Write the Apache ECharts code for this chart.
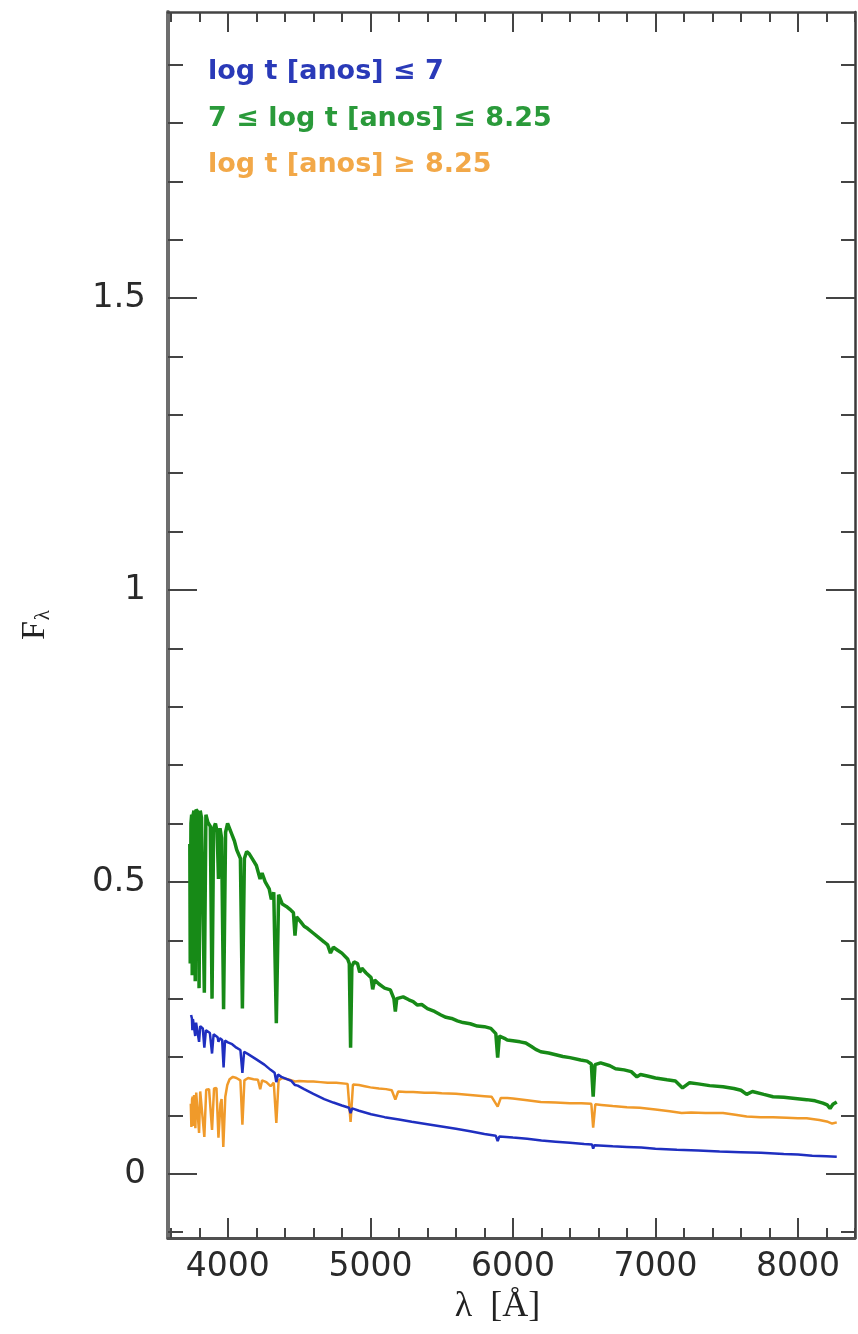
<!DOCTYPE html>
<html><head><meta charset="utf-8">
<script src="https://cdn.jsdelivr.net/npm/echarts@6/dist/echarts.min.js"></script>
<style>html,body{margin:0;padding:0;background:#fff}#c{width:858px;height:1334px}</style>
</head><body><div id="c"></div>
<script>
const seriesNames = ['log t [anos] \u2264 7', '7 \u2264 log t [anos] \u2264 8.25', 'log t [anos] \u2265 8.25'];
const seriesColors = ['#1f2fc0', '#178a17', '#f09a2a'];
const legendColors = ['#2a3ab8', '#2a9a3a', '#f2a848'];

// [wavelength (Å), F_lambda]
const blueSpectrum = [
  [3742,0.272],[3748,0.266],[3751,0.246],[3755,0.265],[3764,0.262],[3771,0.236],[3777,0.259],[3789,0.256],
  [3798,0.226],[3806,0.253],[3824,0.249],[3835,0.216],[3846,0.246],[3874,0.241],[3889,0.206],[3900,0.239],
  [3928,0.234],[3934,0.226],[3944,0.232],[3960,0.229],[3970,0.182],[3980,0.228],[4000,0.225],[4030,0.222],
  [4060,0.216],[4088,0.212],[4102,0.173],[4114,0.209],[4142,0.205],[4200,0.196],[4256,0.187],[4300,0.178],
  [4328,0.173],[4340,0.157],[4352,0.170],[4375,0.166],[4445,0.159],[4471,0.152],[4490,0.151],[4535,0.145],
  [4600,0.137],[4676,0.128],[4740,0.122],[4800,0.117],[4850,0.113],[4861,0.104],[4872,0.112],[4920,0.108],
  [5005,0.102],[5100,0.097],[5200,0.093],[5290,0.089],[5400,0.085],[5500,0.081],[5600,0.077],[5700,0.073],
  [5800,0.068],[5880,0.065],[5893,0.056],[5905,0.064],[6000,0.062],[6100,0.060],[6200,0.057],[6300,0.055],
  [6400,0.053],[6500,0.051],[6555,0.050],[6563,0.043],[6572,0.049],[6700,0.047],[6800,0.046],[6900,0.045],
  [7000,0.043],[7150,0.041],[7300,0.040],[7450,0.038],[7600,0.037],[7740,0.036],[7900,0.034],[8000,0.033],
  [8100,0.031],[8200,0.030],[8272,0.029]
];

const greenSpectrum = [
  [3733,0.565],[3736,0.360],[3741,0.600],[3746,0.615],[3750,0.340],[3754,0.612],[3762,0.622],[3771,0.330],
  [3777,0.624],[3788,0.620],[3798,0.318],[3806,0.622],[3815,0.610],[3824,0.612],[3835,0.310],[3846,0.615],
  [3860,0.602],[3877,0.595],[3889,0.300],[3900,0.592],[3913,0.600],[3925,0.585],[3934,0.505],[3945,0.592],
  [3956,0.575],[3970,0.282],[3984,0.585],[3998,0.600],[4012,0.598],[4030,0.580],[4046,0.570],[4062,0.555],
  [4088,0.540],[4102,0.283],[4116,0.540],[4132,0.552],[4150,0.548],[4175,0.538],[4200,0.528],[4226,0.505],
  [4240,0.515],[4262,0.500],[4290,0.488],[4305,0.470],[4322,0.482],[4340,0.258],[4356,0.478],[4382,0.462],
  [4410,0.458],[4440,0.452],[4460,0.447],[4471,0.408],[4482,0.440],[4510,0.432],[4535,0.424],[4560,0.420],
  [4600,0.412],[4640,0.404],[4676,0.397],[4700,0.392],[4720,0.378],[4740,0.388],[4770,0.383],[4800,0.378],
  [4840,0.368],[4852,0.360],[4861,0.216],[4870,0.355],[4885,0.363],[4910,0.360],[4925,0.345],[4940,0.352],
  [4970,0.344],[5005,0.336],[5016,0.316],[5030,0.332],[5060,0.325],[5100,0.318],[5140,0.315],[5165,0.300],
  [5175,0.278],[5185,0.300],[5230,0.303],[5270,0.298],[5300,0.295],[5330,0.289],[5360,0.290],[5400,0.283],
  [5450,0.278],[5495,0.272],[5530,0.268],[5570,0.266],[5610,0.262],[5650,0.259],[5700,0.257],[5750,0.253],
  [5800,0.252],[5845,0.249],[5880,0.240],[5893,0.199],[5905,0.236],[5940,0.232],[5960,0.229],[6000,0.228],
  [6050,0.226],[6090,0.224],[6130,0.218],[6160,0.213],[6195,0.209],[6250,0.207],[6300,0.204],[6350,0.201],
  [6400,0.199],[6475,0.195],[6520,0.193],[6550,0.188],[6563,0.132],[6576,0.187],[6615,0.190],[6680,0.185],
  [6720,0.180],[6780,0.178],[6830,0.175],[6870,0.166],[6895,0.170],[6950,0.167],[7000,0.164],[7081,0.161],
  [7140,0.159],[7190,0.147],[7240,0.156],[7300,0.154],[7380,0.151],[7474,0.149],[7550,0.146],[7600,0.143],
  [7640,0.136],[7680,0.141],[7760,0.136],[7825,0.132],[7900,0.131],[7980,0.129],[8061,0.127],[8120,0.125],
  [8175,0.121],[8205,0.118],[8225,0.112],[8245,0.119],[8272,0.123]
];

const orangeSpectrum = [
  [3740,0.120],[3744,0.080],[3749,0.128],[3754,0.132],[3758,0.082],[3763,0.135],[3768,0.137],[3772,0.078],
  [3778,0.139],[3790,0.140],[3798,0.070],[3806,0.141],[3820,0.142],[3835,0.063],[3848,0.144],[3868,0.145],
  [3889,0.075],[3903,0.146],[3920,0.147],[3934,0.062],[3948,0.120],[3956,0.128],[3968,0.046],[3982,0.132],
  [3996,0.152],[4012,0.162],[4035,0.166],[4060,0.164],[4088,0.160],[4102,0.084],[4116,0.160],[4142,0.164],
  [4180,0.162],[4211,0.161],[4227,0.145],[4240,0.160],[4270,0.157],[4300,0.150],[4322,0.156],[4340,0.087],
  [4356,0.160],[4380,0.164],[4420,0.162],[4471,0.158],[4500,0.159],[4560,0.158],[4600,0.158],[4650,0.157],
  [4700,0.156],[4760,0.156],[4840,0.154],[4861,0.089],[4878,0.153],[4920,0.152],[4960,0.150],[5000,0.148],
  [5060,0.146],[5110,0.145],[5150,0.143],[5175,0.127],[5195,0.141],[5250,0.140],[5300,0.140],[5380,0.139],
  [5450,0.139],[5500,0.138],[5600,0.137],[5700,0.135],[5800,0.133],[5850,0.132],[5893,0.115],[5915,0.130],
  [5960,0.130],[6000,0.129],[6100,0.126],[6195,0.123],[6300,0.122],[6400,0.121],[6480,0.121],[6550,0.120],
  [6563,0.079],[6578,0.119],[6620,0.118],[6700,0.116],[6800,0.114],[6890,0.113],[7000,0.110],[7100,0.107],
  [7184,0.104],[7250,0.105],[7350,0.104],[7474,0.104],[7560,0.101],[7640,0.098],[7737,0.097],[7825,0.097],
  [7920,0.096],[8000,0.095],[8061,0.095],[8150,0.092],[8210,0.089],[8240,0.086],[8272,0.088]
];

const xMajorTicks = [4000, 5000, 6000, 7000, 8000];
const xMinorTicks = [3600, 3800, 4200, 4400, 4600, 4800, 5200, 5400, 5600, 5800, 6200, 6400, 6600, 6800, 7200, 7400, 7600, 7800, 8200, 8400];
const yMajorTicks = [0, 0.5, 1, 1.5];
const yMinorTicks = [-0.1, 0.1, 0.2, 0.3, 0.4, 0.6, 0.7, 0.8, 0.9, 1.1, 1.2, 1.3, 1.4, 1.6, 1.7, 1.8, 1.9];

const X_MIN = 3580, X_MAX = 8400, Y_MIN = -0.11, Y_MAX = 1.99;
const TICK = '#444';

const chart = echarts.init(document.getElementById('c'));

function ax(kind, pos, ticks, len, opts) {
  return Object.assign({
    type: 'value', position: pos,
    min: kind === 'x' ? X_MIN : Y_MIN, max: kind === 'x' ? X_MAX : Y_MAX,
    axisLine: { show: false, onZero: false },
    axisTick: { show: true, inside: true, length: len, customValues: ticks, lineStyle: { color: TICK, width: 2 } },
    axisLabel: { show: false },
    splitLine: { show: false }
  }, opts || {});
}
const plain = v => String(Math.round(v * 1000) / 1000);

const option = {
  backgroundColor: '#fff',
  animation: false,
  grid: { left: 168, right: 3, top: 12, bottom: 96 },
  legend: {
    left: 198, top: 53, orient: 'vertical', icon: 'none', itemWidth: 0, itemHeight: 28, itemGap: 19,
    selectedMode: false,
    textStyle: { fontFamily: 'DejaVu Sans', fontWeight: 'bold', fontSize: 27 },
    data: seriesNames.map((n, i) => ({ name: n, textStyle: { color: legendColors[i] } }))
  },
  xAxis: [
    ax('x', 'bottom', xMajorTicks, 20, {
      axisLine: { show: true, onZero: false, lineStyle: { color: '#505050', width: 3 } },
      axisLabel: { show: true, customValues: xMajorTicks, formatter: plain, margin: 13, fontFamily: 'DejaVu Sans', fontSize: 33, color: '#2a2a2a' },
      name: '\u03bb  [\u00c5]', nameLocation: 'middle', nameGap: 50,
      nameTextStyle: { fontFamily: 'Liberation Serif', fontSize: 36, color: '#222', padding: [0, 28, 0, 0] }
    }),
    ax('x', 'bottom', xMinorTicks, 10),
    ax('x', 'top', xMajorTicks, 20, { axisLine: { show: true, onZero: false, lineStyle: { color: '#444', width: 2.5 } } }),
    ax('x', 'top', xMinorTicks, 10)
  ],
  yAxis: [
    ax('y', 'left', yMajorTicks, 29, {
      axisLine: { show: true, onZero: false, lineStyle: { color: '#6e6e6e', width: 4 } },
      axisLabel: { show: true, customValues: yMajorTicks, formatter: plain, margin: 22, fontFamily: 'DejaVu Sans', fontSize: 34, color: '#2a2a2a' },
      name: '{f|F}{s|\u03bb}', nameLocation: 'middle', nameGap: 114,
      nameTextStyle: {
        rich: {
          f: { fontFamily: 'Liberation Serif', fontSize: 34, color: '#222' },
          s: { fontFamily: 'Liberation Serif', fontSize: 21, color: '#222', padding: [16, 0, 0, 1] }
        }
      }
    }),
    ax('y', 'left', yMinorTicks, 15),
    ax('y', 'right', yMajorTicks, 29, { axisLine: { show: true, onZero: false, lineStyle: { color: '#3a3a3a', width: 2.5 } } }),
    ax('y', 'right', yMinorTicks, 14)
  ],
  series: [
    { name: seriesNames[2], type: 'line', xAxisIndex: 0, yAxisIndex: 0, data: orangeSpectrum, showSymbol: false, symbol: 'none',
      lineStyle: { color: seriesColors[2], width: 2.5 }, itemStyle: { color: seriesColors[2] }, z: 2 },
    { name: seriesNames[0], type: 'line', xAxisIndex: 0, yAxisIndex: 0, data: blueSpectrum, showSymbol: false, symbol: 'none',
      lineStyle: { color: seriesColors[0], width: 2.5 }, itemStyle: { color: seriesColors[0] }, z: 3 },
    { name: seriesNames[1], type: 'line', xAxisIndex: 0, yAxisIndex: 0, data: greenSpectrum, showSymbol: false, symbol: 'none',
      lineStyle: { color: seriesColors[1], width: 3.5 }, itemStyle: { color: seriesColors[1] }, z: 4 }
  ]
};
chart.setOption(option);
</script></body></html>
